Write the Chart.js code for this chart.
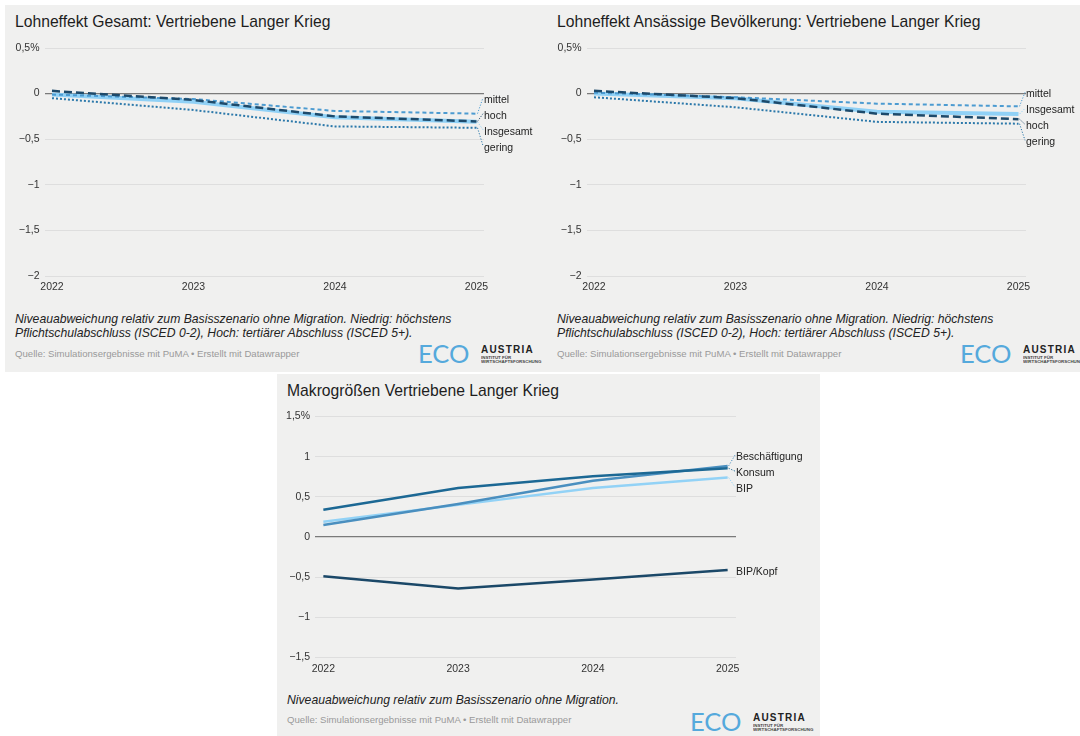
<!DOCTYPE html>
<html lang="de">
<head>
<meta charset="utf-8">
<title>Lohneffekte und Makrogrößen – Vertriebene Langer Krieg</title>
<script src="https://cdn.jsdelivr.net/npm/chart.js@4/dist/chart.umd.min.js"></script>
<style>
  html, body { margin: 0; padding: 0; background: #fff; width: 1080px; height: 736px; overflow: hidden;
    font-family: 'Liberation Sans', Arial, sans-serif; }
  .panel { position: absolute; background: #f0f0ef; overflow: hidden; }
  .title { position: absolute; left: 10px; top: 8px; font-size: 15.7px; line-height: 18px; color: #1d1d1d; white-space: nowrap; }
  .panel canvas { position: absolute; left: 0; top: 25px; }
  .note { position: absolute; left: 10px; font-style: italic; font-size: 12.2px; line-height: 14px; color: #222; white-space: nowrap; }
  .source { position: absolute; left: 10px; font-size: 9.6px; line-height: 12px; color: #9a9a9a; white-space: nowrap; }
  .logo { position: absolute; left: 413px; width: 140px; height: 24px; }
  .logo .eco { position: absolute; left: 0; top: -6px; font-family: Lato, 'Open Sans', sans-serif; font-weight: 400;
    font-size: 25.5px; line-height: 26px; letter-spacing: 0; color: #55a9dc; }
  .logo .aus { position: absolute; left: 63px; top: -2px; font-weight: bold; font-size: 10px; line-height: 11px;
    letter-spacing: 1.2px; color: #222; }
  .logo .sub { position: absolute; left: 63px; top: 9px; font-size: 8.8px; line-height: 8px; font-weight: bold; color: #444;
    transform: scale(0.5); transform-origin: 0 0; white-space: nowrap; }
</style>
</head>
<body>

<div class="panel" style="left:5px; top:5px; width:542px; height:367px;">
  <div class="title">Lohneffekt Gesamt: Vertriebene Langer Krieg</div>
  <canvas id="chartGesamt" width="542" height="268"></canvas>
  <div class="note" style="top:307px;">Niveauabweichung relativ zum Basisszenario ohne Migration. Niedrig: höchstens<br>Pflichtschulabschluss (ISCED 0-2), Hoch: tertiärer Abschluss (ISCED 5+).</div>
  <div class="source" style="top:343px;">Quelle: Simulationsergebnisse mit PuMA • Erstellt mit Datawrapper</div>
  <div class="logo" style="top:341px;"><span class="eco">ECO</span><span class="aus">AUSTRIA</span><span class="sub">INSTITUT FÜR<br>WIRTSCHAFTSFORSCHUNG</span></div>
</div>

<div class="panel" style="left:547px; top:5px; width:542px; height:367px;">
  <div class="title">Lohneffekt Ansässige Bevölkerung: Vertriebene Langer Krieg</div>
  <canvas id="chartAnsaessig" width="542" height="268"></canvas>
  <div class="note" style="top:307px;">Niveauabweichung relativ zum Basisszenario ohne Migration. Niedrig: höchstens<br>Pflichtschulabschluss (ISCED 0-2), Hoch: tertiärer Abschluss (ISCED 5+).</div>
  <div class="source" style="top:343px;">Quelle: Simulationsergebnisse mit PuMA • Erstellt mit Datawrapper</div>
  <div class="logo" style="top:341px;"><span class="eco">ECO</span><span class="aus">AUSTRIA</span><span class="sub">INSTITUT FÜR<br>WIRTSCHAFTSFORSCHUNG</span></div>
</div>

<div class="panel" style="left:277px; top:374px; width:543px; height:362px;">
  <div class="title">Makrogrößen Vertriebene Langer Krieg</div>
  <canvas id="chartMakro" width="543" height="280"></canvas>
  <div class="note" style="top:319px;">Niveauabweichung relativ zum Basisszenario ohne Migration.</div>
  <div class="source" style="top:340px;">Quelle: Simulationsergebnisse mit PuMA • Erstellt mit Datawrapper</div>
  <div class="logo" style="top:340px;"><span class="eco">ECO</span><span class="aus">AUSTRIA</span><span class="sub">INSTITUT FÜR<br>WIRTSCHAFTSFORSCHUNG</span></div>
</div>

<script>
// ---- data -------------------------------------------------------------
const years = [2022, 2023, 2024, 2025];

// Lohneffekt Gesamt (Abweichung in %)
const gesamtHoch      = [0.03, -0.07, -0.25, -0.305];
const gesamtMittel    = [-0.01, -0.06, -0.19, -0.22];
const gesamtGering    = [-0.05, -0.18, -0.36, -0.375];
const gesamtInsgesamt = [-0.01, -0.09, -0.26, -0.31];

// Lohneffekt ansässige Bevölkerung (Abweichung in %)
const ansHoch      = [0.03, -0.05, -0.22, -0.28];
const ansMittel    = [0.01, -0.04, -0.11, -0.14];
const ansGering    = [-0.04, -0.15, -0.31, -0.33];
const ansInsgesamt = [0.0, -0.05, -0.20, -0.225];

// Makrogrößen (Abweichung in %)
const makroBeschaeftigung = [0.15, 0.41, 0.70, 0.885];
const makroKonsum         = [0.34, 0.61, 0.755, 0.855];
const makroBIP            = [0.19, 0.40, 0.61, 0.74];
const makroBIPKopf        = [-0.49, -0.64, -0.53, -0.41];

// axis ticks
const lohnTickValues  = [0.5, 0, -0.5, -1, -1.5, -2];
const lohnTickLabels  = ['0,5%', '0', '\u22120,5', '\u22121', '\u22121,5', '\u22122'];
const makroTickValues = [1.5, 1, 0.5, 0, -0.5, -1, -1.5];
const makroTickLabels = ['1,5%', '1', '0,5', '0', '\u22120,5', '\u22121', '\u22121,5'];

// ---- styles -----------------------------------------------------------
const FONT = "'Liberation Sans', Arial, sans-serif";
Chart.defaults.font.family = FONT;
Chart.defaults.font.size = 10.5;
Chart.defaults.color = '#333';

const lohnStyle = {
  hoch:      { color: '#1d4a6b', width: 2.5, dash: [8, 4] },
  mittel:    { color: '#4c9bd1', width: 2,   dash: [4, 3] },
  gering:    { color: '#2b78aa', width: 2,   dash: [2, 2] },
  Insgesamt: { color: '#90d1f6', width: 4,   dash: [] }
};
const makroStyle = {
  'BIP/Kopf':      { color: '#1b4868', width: 2.5, dash: [] },
  'Konsum':        { color: '#1c6894', width: 2.5, dash: [] },
  'Beschäftigung': { color: '#4a8fbf', width: 2.5, dash: [] },
  'BIP':           { color: '#92d2f6', width: 2.5, dash: [] }
};

function series(label, values, style) {
  const s = style[label];
  return {
    label, data: values.map((v, i) => ({ x: years[i], y: v })),
    borderColor: s.color, borderWidth: s.width, borderDash: s.dash,
    pointRadius: 0, tension: 0, fill: false
  };
}

// line-end labels, spread apart where they would overlap, with dotted leaders
const endLabels = {
  id: 'endLabels',
  afterDatasetsDraw(chart, args, opts) {
    const { ctx, chartArea } = chart;
    const gap = opts.gap;
    const items = chart.data.datasets.map((ds, i) => {
      const pts = chart.getDatasetMeta(i).data;
      const p = pts[pts.length - 1];
      return { label: ds.label, color: ds.borderColor, x: p.x, y: p.y };
    }).sort((a, b) => a.y - b.y);

    const place = g => {
      const mean = g.items.reduce((s, it) => s + it.y, 0) / g.items.length;
      g.top = mean - (g.items.length - 1) * gap / 2 + opts.shift;
      g.bottom = g.top + (g.items.length - 1) * gap;
    };
    const groups = items.map(it => ({ items: [it] }));
    groups.forEach(place);
    let merged = true;
    while (merged) {
      merged = false;
      for (let k = 1; k < groups.length; k++) {
        if (groups[k].top - groups[k - 1].bottom < gap) {
          groups[k - 1].items = groups[k - 1].items.concat(groups[k].items);
          groups.splice(k, 1);
          place(groups[k - 1]);
          merged = true;
          break;
        }
      }
    }
    groups.forEach(g => g.items.forEach((it, j) => { it.ly = g.top + j * gap; }));

    const lx = chartArea.right - 1;
    ctx.save();
    items.forEach(it => {
      if (Math.abs(it.ly - it.y) > 3) {
        ctx.beginPath();
        ctx.setLineDash([1.2, 1.6]);
        ctx.lineWidth = 1;
        ctx.strokeStyle = it.color;
        ctx.moveTo(it.x + 1, it.y);
        ctx.lineTo(lx, it.ly - 2);
        ctx.stroke();
      }
      ctx.setLineDash([]);
      ctx.fillStyle = '#222';
      ctx.font = '10.5px ' + FONT;
      ctx.textAlign = 'left';
      ctx.textBaseline = 'middle';
      ctx.fillText(it.label, lx + 1, it.ly);
    });
    ctx.restore();
  }
};

function buildChart(id, datasets, cfg) {
  return new Chart(document.getElementById(id), {
    type: 'line',
    data: { datasets },
    plugins: [endLabels],
    options: {
      responsive: false,
      animation: false,
      devicePixelRatio: 1,
      layout: { padding: { top: cfg.padTop, right: cfg.padRight, left: 0, bottom: 0 } },
      plugins: { legend: { display: false }, tooltip: { enabled: false }, endLabels: { gap: 16, shift: 2.5 } },
      scales: {
        x: {
          type: 'linear',
          min: years[0] - cfg.xPad,
          max: years[years.length - 1] + cfg.xPad,
          afterBuildTicks: s => { s.ticks = years.map(v => ({ value: v })); },
          afterFit: s => { s.height = cfg.xAxisHeight; },
          grid: { display: false, drawTicks: false },
          border: { display: false },
          ticks: { padding: 5, maxRotation: 0, autoSkip: false, color: '#333',
                   callback: v => String(v) }
        },
        y: {
          min: cfg.tickValues[cfg.tickValues.length - 1],
          max: cfg.tickValues[0],
          afterBuildTicks: s => { s.ticks = cfg.tickValues.map(v => ({ value: v })); },
          afterFit: s => { s.width = cfg.yAxisWidth; },
          grid: {
            drawTicks: false,
            color: c => c.tick && c.tick.value === 0 ? '#7a7a7a' : '#dedede',
            lineWidth: c => c.tick && c.tick.value === 0 ? 1.3 : 1
          },
          border: { display: false },
          ticks: { padding: 5, color: '#333',
                   callback: v => cfg.tickLabels[cfg.tickValues.indexOf(v)] }
        }
      }
    }
  });
}

const lohnLayout = { padTop: 18, padRight: 63, yAxisWidth: 39.5, xAxisHeight: 22, xPad: 0.053,
                     tickValues: lohnTickValues, tickLabels: lohnTickLabels };

buildChart('chartGesamt', [
  series('hoch', gesamtHoch, lohnStyle),
  series('mittel', gesamtMittel, lohnStyle),
  series('gering', gesamtGering, lohnStyle),
  series('Insgesamt', gesamtInsgesamt, lohnStyle)
], lohnLayout);

buildChart('chartAnsaessig', [
  series('hoch', ansHoch, lohnStyle),
  series('mittel', ansMittel, lohnStyle),
  series('gering', ansGering, lohnStyle),
  series('Insgesamt', ansInsgesamt, lohnStyle)
], lohnLayout);

buildChart('chartMakro', [
  series('BIP/Kopf', makroBIPKopf, makroStyle),
  series('Konsum', makroKonsum, makroStyle),
  series('Beschäftigung', makroBeschaeftigung, makroStyle),
  series('BIP', makroBIP, makroStyle)
], { padTop: 17.5, padRight: 84, yAxisWidth: 38, xAxisHeight: 21.5, xPad: 0.062,
     tickValues: makroTickValues, tickLabels: makroTickLabels });
</script>
</body>
</html>
